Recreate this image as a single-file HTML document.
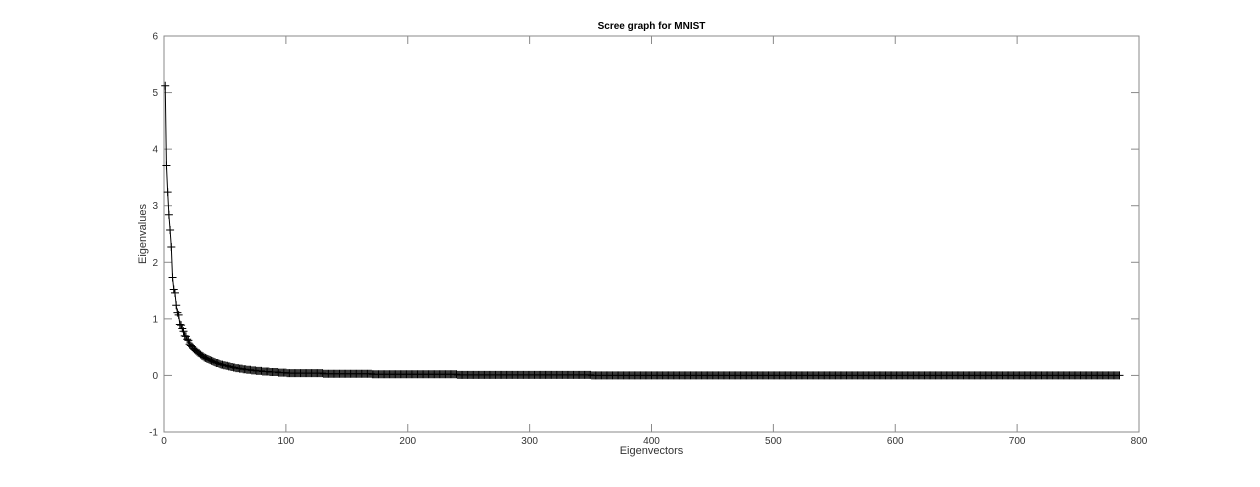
<!DOCTYPE html>
<html><head><meta charset="utf-8"><style>
html,body{margin:0;padding:0;background:#fff;}
svg{display:block;font-family:"Liberation Sans",sans-serif;}
</style></head><body>
<svg id="chart" width="1260" height="487" viewBox="0 0 1260 487"></svg>
<script>
const xTicks=[0,100,200,300,400,500,600,700,800];
const yTicks=[-1,0,1,2,3,4,5,6];
const headValues=[5.12,3.71,3.24,2.84,2.57,2.27,1.73,1.52,1.46,1.24,1.11,1.07,0.90,0.89,0.83,0.78,0.70,0.69,0.64,0.62,0.55,0.53,0.51,0.48,0.46,0.44,0.42,0.40,0.39,0.37,0.35,0.34,0.32,0.31,0.30,0.29,0.28,0.27,0.26,0.25,0.24,0.23,0.22,0.22,0.21,0.20,0.19,0.19,0.18,0.18,0.17,0.17,0.16,0.16,0.15,0.15,0.14,0.14,0.13,0.13,
0.13,0.12,0.12,0.12,0.11,0.11,0.11,0.10,0.10,0.10,0.10,0.09,0.09,0.09,0.09,0.08,0.08,0.08,0.08,0.08,0.07,0.07,0.07,0.07,0.07,0.07,0.06,0.06,0.06,0.06,0.06,0.06,0.06,0.05,0.05,0.05,0.05,0.05,0.05,0.05,
.04,.04,.04,.04,.04,.04,.04,.04,.04,.04,.04,.04,.04,.04,.04,.04,.04,.04,.04,.04,.04,.04,.04,.04,.04,.04,.04,.04,.04,.04,
.03,.03,.03,.03,.03,.03,.03,.03,.03,.03,.03,.03,.03,.03,.03,.03,.03,.03,.03,.03,.03,.03,.03,.03,.03,.03,.03,.03,.03,.03,.03,.03,.03,.03,.03,.03,.03,.03,.03,.03,
.02,.02,.02,.02,.02,.02,.02,.02,.02,.02,.02,.02,.02,.02,.02,.02,.02,.02,.02,.02,.02,.02,.02,.02,.02,.02,.02,.02,.02,.02,.02,.02,.02,.02,.02,.02,.02,.02,.02,.02,.02,.02,.02,.02,.02,.02,.02,.02,.02,.02,.02,.02,.02,.02,.02,.02,.02,.02,.02,.02,.02,.02,.02,.02,.02,.02,.02,.02,.02,.02,
.01,.01,.01,.01,.01,.01,.01,.01,.01,.01,.01,.01,.01,.01,.01,.01,.01,.01,.01,.01,.01,.01,.01,.01,.01,.01,.01,.01,.01,.01,.01,.01,.01,.01,.01,.01,.01,.01,.01,.01,.01,.01,.01,.01,.01,.01,.01,.01,.01,.01,.01,.01,.01,.01,.01,.01,.01,.01,.01,.01,.01,.01,.01,.01,.01,.01,.01,.01,.01,.01,.01,.01,.01,.01,.01,.01,.01,.01,.01,.01,.01,.01,.01,.01,.01,.01,.01,.01,.01,.01,.01,.01,.01,.01,.01,.01,.01,.01,.01,.01,.01,.01,.01,.01,.01,.01,.01,.01,.01,.01];
const tailValues=[
0,0,0,0,0,0,0,0,0,0,0,0,0,0,0,0,0,0,0,0,0,0,0,0,0,0,0,0,0,0,0,0,0,0,0,0,0,0,0,0,
0,0,0,0,0,0,0,0,0,0,0,0,0,0,0,0,0,0,0,0,0,0,0,0,0,0,0,0,0,0,0,0,0,0,0,0,0,0,0,0,
0,0,0,0,0,0,0,0,0,0,0,0,0,0,0,0,0,0,0,0,0,0,0,0,0,0,0,0,0,0,0,0,0,0,0,0,0,0,0,0,
0,0,0,0,0,0,0,0,0,0,0,0,0,0,0,0,0,0,0,0,0,0,0,0,0,0,0,0,0,0,0,0,0,0,0,0,0,0,0,0,
0,0,0,0,0,0,0,0,0,0,0,0,0,0,0,0,0,0,0,0,0,0,0,0,0,0,0,0,0,0,0,0,0,0,0,0,0,0,0,0,
0,0,0,0,0,0,0,0,0,0,0,0,0,0,0,0,0,0,0,0,0,0,0,0,0,0,0,0,0,0,0,0,0,0,0,0,0,0,0,0,
0,0,0,0,0,0,0,0,0,0,0,0,0,0,0,0,0,0,0,0,0,0,0,0,0,0,0,0,0,0,0,0,0,0,0,0,0,0,0,0,
0,0,0,0,0,0,0,0,0,0,0,0,0,0,0,0,0,0,0,0,0,0,0,0,0,0,0,0,0,0,0,0,0,0,0,0,0,0,0,0,
0,0,0,0,0,0,0,0,0,0,0,0,0,0,0,0,0,0,0,0,0,0,0,0,0,0,0,0,0,0,0,0,0,0,0,0,0,0,0,0,
0,0,0,0,0,0,0,0,0,0,0,0,0,0,0,0,0,0,0,0,0,0,0,0,0,0,0,0,0,0,0,0,0,0,0,0,0,0,0,0,
0,0,0,0,0,0,0,0,0,0,0,0,0,0,0,0,0,0,0,0,0,0,0,0,0,0,0,0,0,0,0,0,0,0];
const eigenvalues=headValues.concat(tailValues).slice(0,784);
const chartTitle="Scree graph for MNIST";

const L=164,R=1139,T=36,B=432,X0=0,X1=800,Y0=-1,Y1=6;
const NS="http://www.w3.org/2000/svg";
const svg=document.getElementById('chart');
function xs(v){return L+(v-X0)/(X1-X0)*(R-L);}
function ys(v){return B-(v-Y0)/(Y1-Y0)*(B-T);}
function mk(tag,attrs,parent){const e=document.createElementNS(NS,tag);for(const k in attrs)e.setAttribute(k,attrs[k]);(parent||svg).appendChild(e);return e;}

const box=mk('rect',{x:L,y:T,width:R-L,height:B-T,fill:'#fff',stroke:'#8a8a8a','stroke-width':1});



const axG=mk('g',{});


xTicks.forEach(v=>{
  const x=xs(v);
  mk('line',{x1:x,y1:B,x2:x,y2:B-8,stroke:'#8a8a8a'},axG);
  mk('line',{x1:x,y1:T,x2:x,y2:T+8,stroke:'#8a8a8a'},axG);
  const t=mk('text',{x:x,y:B+12,'text-anchor':'middle','font-size':10,fill:'#333'},axG);
  t.textContent=v;
  
  
});
yTicks.forEach(v=>{
  const y=ys(v);
  mk('line',{x1:L,y1:y,x2:L+8,y2:y,stroke:'#8a8a8a'},axG);
  mk('line',{x1:R,y1:y,x2:R-8,y2:y,stroke:'#8a8a8a'},axG);
  const t=mk('text',{x:L-6,y:y+3.5,'text-anchor':'end','font-size':10,fill:'#333'},axG);
  t.textContent=v;
  
  
});

const title=mk('text',{x:(L+R)/2,y:29,'text-anchor':'middle','font-size':10,'font-weight':'bold',fill:'#000'});
title.textContent=chartTitle;


const xl=mk('text',{x:(L+R)/2,y:454,'text-anchor':'middle','font-size':11,fill:'#333'});
xl.textContent='Eigenvectors';


const yl=mk('text',{x:0,y:0,'text-anchor':'middle','font-size':11,fill:'#333',transform:'translate(146,234) rotate(-90)'});
yl.textContent='Eigenvalues';



let d='';
eigenvalues.forEach((v,i)=>{d+=(i?'L':'M')+xs(i+1).toFixed(2)+','+ys(v).toFixed(2);});
const line=mk('path',{d:d,fill:'none',stroke:'#000','stroke-width':1});


let m='';
eigenvalues.forEach((v,i)=>{const x=xs(i+1),y=ys(v);m+=`M${(x-4).toFixed(2)},${y.toFixed(2)}h8M${x.toFixed(2)},${(y-4).toFixed(2)}v8`;});
const marks=mk('path',{d:m,fill:'none',stroke:'#000','stroke-width':1});


</script>
</body></html>
